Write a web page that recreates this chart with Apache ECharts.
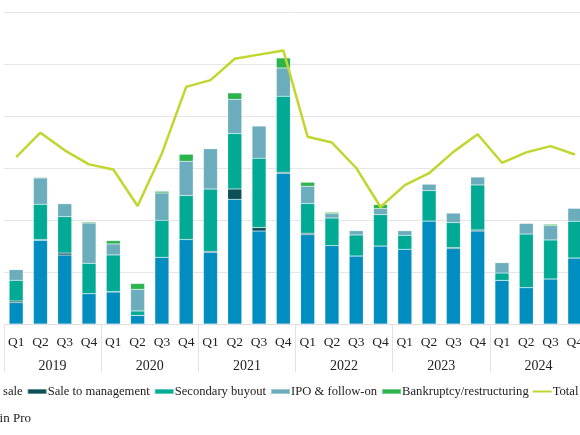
<!DOCTYPE html>
<html>
<head>
<meta charset="utf-8">
<script src="https://cdn.jsdelivr.net/npm/echarts@6/dist/echarts.min.js"></script>
<style>
	html, body { margin: 0; padding: 0; background: #fff; overflow: hidden; }
	#wrap { position: relative; width: 580px; height: 435px; overflow: hidden; }
	#chart { position: absolute; left: -100px; top: 0; width: 740px; height: 435px; }
</style>
</head>
<body>
<div id="wrap"><div id="chart"></div></div>
<script>
var quarters = ['Q1', 'Q2', 'Q3', 'Q4', 'Q1', 'Q2', 'Q3', 'Q4', 'Q1', 'Q2', 'Q3', 'Q4',
	'Q1', 'Q2', 'Q3', 'Q4', 'Q1', 'Q2', 'Q3', 'Q4', 'Q1', 'Q2', 'Q3', 'Q4'];
var years = ['2019', '2020', '2021', '2022', '2023', '2024'];

// exit value by type (stacked bars)
var tradeSale = [20.6, 80.5, 66.3, 29.2, 30.8, 8.4, 64.1, 81.2, 68.9, 119.9, 89.4, 144.9,
	86.0, 75.4, 65.4, 75.0, 71.8, 99.0, 72.5, 89.4, 42.0, 35.0, 43.3, 63.5];
var saleToMgmt = [1.5, 0.7, 1.9, 0, 0.3, 0, 0, 0, 1.0, 9.9, 3.3, 1.0,
	1.3, 0, 0, 0, 0, 0, 1.0, 1.0, 0, 0, 0, 0];
var secondary = [19.9, 33.9, 35.0, 29.1, 35.3, 4.1, 35.6, 42.3, 59.9, 53.3, 66.6, 73.1,
	28.6, 26.5, 20.2, 30.2, 13.5, 29.2, 24.0, 43.3, 7.0, 51.5, 37.5, 35.3];
var ipo = [10.3, 25.3, 12.5, 38.8, 10.6, 20.9, 26.3, 33.0, 38.8, 33.0, 31.1, 27.2,
	16.6, 4.2, 4.2, 5.8, 4.5, 6.3, 9.2, 7.7, 10.0, 10.3, 13.8, 12.5];
var bankruptcy = [0.3, 0.7, 0, 1.0, 3.2, 5.5, 1.6, 6.7, 0, 6.1, 0, 9.6,
	3.8, 1.3, 0, 3.8, 0, 0, 0, 0, 0, 0, 1.3, 0];

// total exit count (secondary axis)
var total = [321, 368, 334, 307, 297, 227, 328, 456, 469, 510, 518, 526,
	360, 349, 300, 225, 267, 290, 331, 365, 310, 330, 342, 326];

var font = 'Liberation Serif';

function barSeries(name, data, color) {
	return {
		name: name,
		type: 'bar',
		stack: 'exits',
		xAxisIndex: 0,
		yAxisIndex: 0,
		barWidth: 14,
		data: data,
		itemStyle: {
			color: color,
			borderColor: 'rgba(255,255,255,0.35)',
			borderWidth: 0.5
		}
	};
}

var myChart = echarts.init(document.getElementById('chart'));

var option = {
	backgroundColor: '#fff',
	animation: false,
	textStyle: { fontFamily: font },
	grid: {
		left: 104,
		top: 12,
		width: 583,
		height: 312
	},
	legend: {
		left: 45,
		top: 380,
		itemWidth: 19,
		itemHeight: 5,
		itemGap: 4,
		textStyle: {
			fontFamily: font,
			fontSize: 12.6,
			color: '#222',
			padding: [0, 0, 0, -4]
		},
		data: [
			{ name: 'Trade sale', icon: 'rect' },
			{ name: 'Sale to management', icon: 'rect' },
			{ name: 'Secondary buyout', icon: 'rect' },
			{ name: 'IPO & follow-on', icon: 'rect' },
			{ name: 'Bankruptcy/restructuring', icon: 'rect' },
			{ name: 'Total', icon: 'path://M0,0H19V2H0Z', symbolKeepAspect: true }
		]
	},
	graphic: [{
		type: 'text',
		x: 131,
		y: 419,
		style: {
			text: 'Source: Preqin Pro',
			font: '13px "Liberation Serif"',
			fill: '#222',
			align: 'right',
			verticalAlign: 'middle'
		}
	}],
	xAxis: [
		{
			type: 'category',
			position: 'bottom',
			data: quarters,
			axisLine: { show: true, lineStyle: { color: '#dedede', width: 1 } },
			axisTick: { show: false },
			axisLabel: {
				interval: 0,
				margin: 11,
				fontFamily: font,
				fontSize: 13.5,
				color: '#222'
			}
		},
		{
			type: 'category',
			position: 'bottom',
			offset: 0,
			data: years,
			axisLine: { show: false },
			axisTick: {
				show: true,
				length: 48,
				lineStyle: { color: '#e3e3e3', width: 1 }
			},
			axisLabel: {
				interval: 0,
				margin: 35,
				fontFamily: font,
				fontSize: 14,
				color: '#222'
			}
		}
	],
	yAxis: [
		{
			type: 'value',
			min: 0,
			max: 300,
			interval: 50,
			axisLine: { show: false },
			axisTick: { show: false },
			axisLabel: { show: false },
			splitLine: { show: true, lineStyle: { color: '#e6e6e6', width: 1 } }
		},
		{
			type: 'value',
			min: 0,
			max: 600,
			interval: 100,
			axisLine: { show: false },
			axisTick: { show: false },
			axisLabel: { show: false },
			splitLine: { show: false }
		}
	],
	series: [
		barSeries('Trade sale', tradeSale, '#008dbf'),
		barSeries('Sale to management', saleToMgmt, '#0b4f57'),
		barSeries('Secondary buyout', secondary, '#00aa94'),
		barSeries('IPO & follow-on', ipo, '#6cadbd'),
		barSeries('Bankruptcy/restructuring', bankruptcy, '#2bb34c'),
		{
			name: 'Total',
			type: 'line',
			xAxisIndex: 0,
			yAxisIndex: 1,
			data: total,
			symbol: 'none',
			showSymbol: false,
			lineStyle: { color: '#c3d52f', width: 2.5 },
			itemStyle: { color: '#c3d52f' },
			z: 5
		}
	]
};

myChart.setOption(option);
</script>
</body>
</html>
